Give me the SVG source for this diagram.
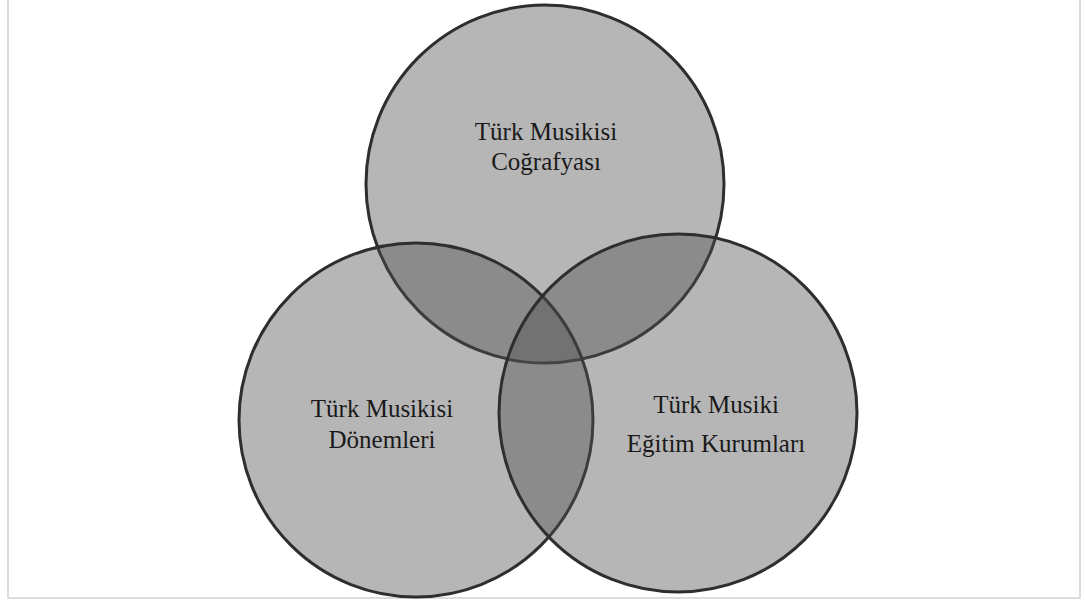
<svg xmlns="http://www.w3.org/2000/svg" width="1085" height="603" viewBox="0 0 1085 603">
<style>
.c{fill:#505050;fill-opacity:0.42;stroke:#2e2e2e;stroke-width:3}
.t{font-family:"Liberation Serif","Times New Roman",serif;font-size:25px;fill:#1a1a1a;text-anchor:middle}
</style>
<rect x="0" y="0" width="1085" height="603" fill="#ffffff"/>
<rect x="8" y="-2" width="1072" height="600" fill="none" stroke="#dcdcdc" stroke-width="2"/>
<g id="node-cografya">
<circle class="c" cx="545" cy="184" r="179"/>
<text class="t" x="546" y="140">Türk Musikisi</text>
<text class="t" x="546" y="170">Coğrafyası</text>
</g>
<g id="node-donemleri">
<circle class="c" cx="416" cy="420" r="177"/>
<text class="t" x="382" y="417">Türk Musikisi</text>
<text class="t" x="382" y="448">Dönemleri</text>
</g>
<g id="node-kurumlari">
<circle class="c" cx="678" cy="413" r="179"/>
<text class="t" x="716" y="413">Türk Musiki</text>
<text class="t" x="716" y="452">Eğitim Kurumları</text>
</g>
<g id="connectors"></g>
</svg>
